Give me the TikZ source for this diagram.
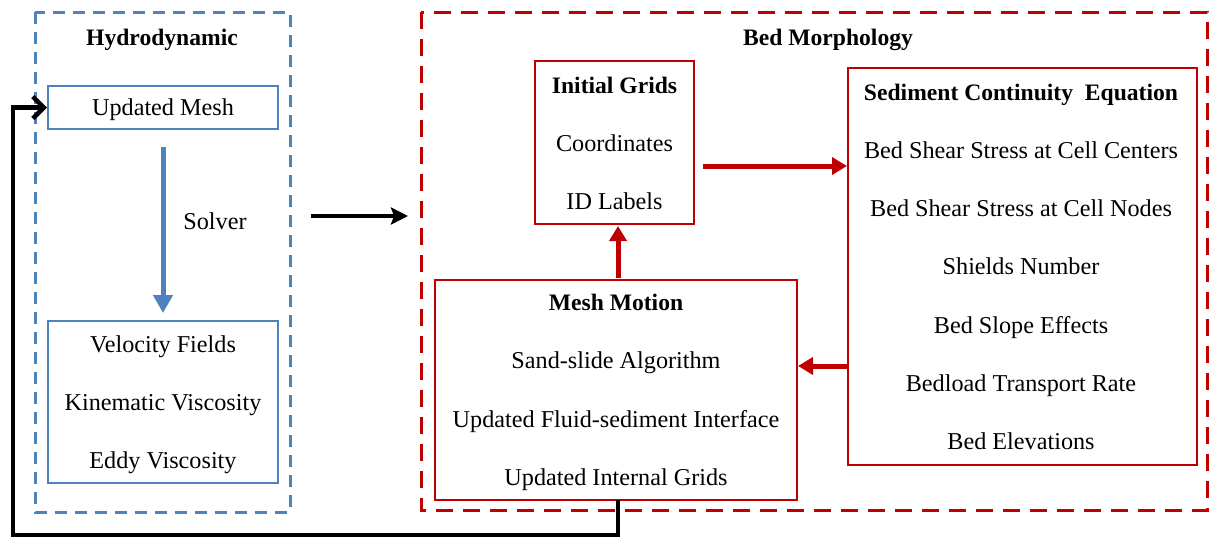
\documentclass[tikz,border=0pt]{standalone}
\usepackage{fontspec}
\setmainfont{Liberation Serif}
\usetikzlibrary{arrows.meta}
\definecolor{hblue}{HTML}{4F81BD}
\definecolor{bred}{HTML}{C00000}
\begin{document}
\begin{tikzpicture}[x=1pt,y=-1pt,
  txt/.style={anchor=base,inner sep=0pt,font=\fontsize{24.2}{28}\selectfont},
  btxt/.style={txt,font=\fontsize{23.6}{28}\selectfont\bfseries},
  bluebox/.style={draw=hblue,line width=2pt,inner sep=0pt},
  redbox/.style={draw=bred,line width=2pt,inner sep=0pt},
  bluearrow/.style={draw=hblue,line width=5pt,-{Triangle[width=19pt,length=18pt]}},
  redarrow/.style={draw=bred,line width=5pt,-{Triangle[width=17pt,length=15pt]}},
  blackarrow/.style={draw=black,line width=4.5pt,-{Stealth[width=17pt,length=17pt,inset=3pt]}},
  fbarrow/.style={draw=black,line width=4.5pt,line join=miter,-{Straight Barb[width=22pt,length=11pt,line width=4.5pt]}},
]
\useasboundingbox (0,0) rectangle (1214,539);
% group frames
\draw[hblue,line width=3pt,dash pattern=on 12pt off 8pt] (35,12) rectangle (290,512);
\draw[bred,line width=3pt,dash pattern=on 17pt off 10pt] (421,12) rectangle (1207,510);
\node[btxt] (hyd) at (162,45) {Hydrodynamic};
\node[btxt] (bedm) at (828,45) {Bed Morphology};
% Hydrodynamic boxes
\node[bluebox,minimum width=230pt,minimum height=43pt] (um) at (163,107.5) {};
\node[txt] (umt) at (163,115) {Updated Mesh};
\node[bluebox,minimum width=230pt,minimum height=162pt] (vf) at (163,402) {};
\node[txt] (vf1) at (163,352) {Velocity Fields};
\node[txt] (vf2) at (163,410) {Kinematic Viscosity};
\node[txt] (vf3) at (163,468) {Eddy Viscosity};
\node[txt] (solver) at (215,229) {Solver};
\coordinate (s1) at (163,147);
\coordinate (s2) at (163,313);
\draw[bluearrow] (s1) -- (s2);
% black link
\coordinate (b1) at (311,216);
\coordinate (b2) at (408,216);
\draw[blackarrow] (b1) -- (b2);
% Initial Grids
\node[redbox,minimum width=159pt,minimum height=163pt] (ig) at (614.5,142.5) {};
\node[btxt] (ig1) at (614.5,93) {Initial Grids};
\node[txt] (ig2) at (614.5,151) {Coordinates};
\node[txt] (ig3) at (614.5,209) {ID Labels};
% Sediment
\node[redbox,minimum width=349pt,minimum height=397pt] (sc) at (1022.5,266.5) {};
\node[btxt] (sc0) at (1021,100) {Sediment Continuity\ \ Equation};
\node[txt] (sc1) at (1021,158) {Bed Shear Stress at Cell Centers};
\node[txt] (sc2) at (1021,216) {Bed Shear Stress at Cell Nodes};
\node[txt] (sc3) at (1021,274) {Shields Number};
\node[txt] (sc4) at (1021,333) {Bed Slope Effects};
\node[txt] (sc5) at (1021,391) {Bedload Transport Rate};
\node[txt] (sc6) at (1021,449) {Bed Elevations};
% Mesh Motion
\node[redbox,minimum width=362pt,minimum height=220pt] (mm) at (616,390) {};
\node[btxt] (mm0) at (616,310) {Mesh Motion};
\node[txt] (mm1) at (616,368) {Sand-slide Algorithm};
\node[txt] (mm2) at (616,427) {Updated Fluid-sediment Interface};
\node[txt] (mm3) at (616,485) {Updated Internal Grids};
% red arrows
\coordinate (r1) at (703,166);
\draw[redarrow] (r1) -- (r1 -| sc.west);
\coordinate (r2) at (848,366);
\draw[redarrow] (r2) -- (r2 -| mm.east);
\coordinate (r3) at (618,278);
\draw[redarrow] (r3) -- (618,226);
% feedback
\coordinate (f1) at (618,535);
\coordinate (f2) at (13,535);
\coordinate (f3) at (13,107.5);
\draw[fbarrow] (618,500) -- (f1) -- (f2) -- (f3) -- (um.west);
\end{tikzpicture}
\end{document}
